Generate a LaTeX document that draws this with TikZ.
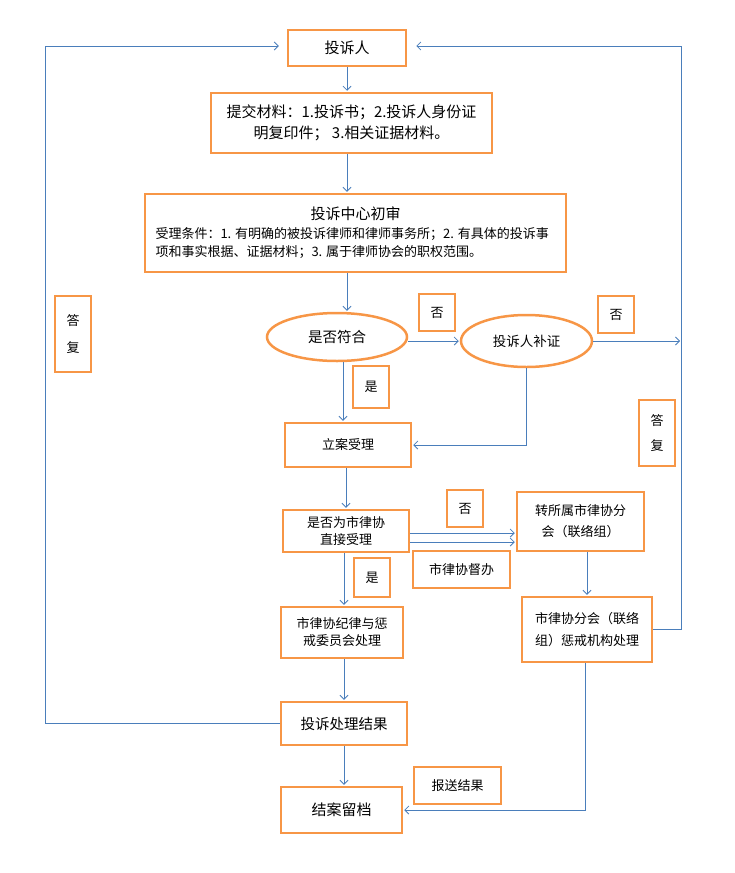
\documentclass[tikz,border=0pt]{standalone}
\usepackage{fontspec}
\setmainfont{Noto Sans CJK SC}
\usepackage{tikz}
\usetikzlibrary{arrows,arrows.meta,shapes.geometric}
\definecolor{boxorange}{HTML}{F79646}
\definecolor{lineblue}{HTML}{4A7EBB}
\tikzstyle{box}=[rectangle, draw=boxorange, line width=2.5pt, align=center, inner sep=0pt, font=\fontsize{13}{17}\selectfont]
\tikzstyle{oval}=[ellipse, draw=boxorange, line width=2.5pt, inner sep=0pt, font=\fontsize{13.5}{17}\selectfont]
\tikzstyle{tag}=[box, minimum width=36pt, font=\fontsize{13}{26}\selectfont]
\tikzstyle{line}=[draw=lineblue, line width=0.8pt]
\tikzstyle{arrow}=[line, ->, shorten >=1pt]

\begin{document}
\begin{tikzpicture}[x=1pt, y=-1pt, >={Straight Barb[length=4pt,width=8pt]}]

\useasboundingbox (0,0) rectangle (734,873);

\node (complainant) [box, minimum width=118pt, minimum height=36pt, font=\fontsize{15}{20}\selectfont] at (347,48) {投诉人};
\node (material) [box, minimum width=281pt, minimum height=60pt, font=\fontsize{15}{21}\selectfont] at (351.5,123) {提交材料：1.投诉书；2.投诉人身份证\\明复印件； 3.相关证据材料。};
\node (review) [box, minimum width=421pt, minimum height=78pt, align=left, font=\fontsize{13}{18.5}\selectfont] at (355.5,233)
	{\makebox[400pt]{\fontsize{15}{20}\selectfont 投诉中心初审}\\受理条件：1. 有明确的被投诉律师和律师事务所；2. 有具体的投诉事\\项和事实根据、证据材料；3. 属于律师协会的职权范围。};

\node (match) [oval, minimum width=140pt, minimum height=48pt, font=\fontsize{14.5}{17}\selectfont] at (337,337) {是否符合};
\node (supplement) [oval, minimum width=131pt, minimum height=52pt] at (526.5,341) {投诉人补证};
\node (no1) [tag, minimum height=37pt] at (437,312.5) {否};
\node (no2) [tag, minimum height=37pt] at (616,314.5) {否};
\node (yes1) [tag, minimum height=42pt] at (371,387) {是};
\node (filing) [box, minimum width=126pt, minimum height=44pt] at (348,445) {立案受理};

\node (replyL) [tag, minimum height=76pt, font=\fontsize{13}{27}\selectfont] at (73,334) {答\\复};
\node (replyR) [tag, minimum height=66pt, font=\fontsize{13}{25}\selectfont] at (657,433) {答\\复};

\node (direct) [box, minimum width=126pt, minimum height=42pt] at (346,531) {是否为市律协\\直接受理};
\node (no3) [tag, minimum height=37pt] at (465,508.5) {否};
\node (transfer) [box, minimum width=127pt, minimum height=59pt, font=\fontsize{13}{21}\selectfont] at (580.5,521.5) {转所属市律协分\\会（联络组）};
\node (supervise) [box, minimum width=97pt, minimum height=37pt] at (461.5,569.5) {市律协督办};
\node (yes2) [tag, minimum height=39pt] at (372,577.5) {是};
\node (discipline) [box, minimum width=122pt, minimum height=51pt] at (342,632.5) {市律协纪律与惩\\戒委员会处理};
\node (branch) [box, minimum width=130pt, minimum height=65pt, font=\fontsize{13}{22}\selectfont] at (587,629.5) {市律协分会（联络\\组）惩戒机构处理};

\node (result) [box, minimum width=126pt, minimum height=43pt, font=\fontsize{14.5}{17}\selectfont] at (344,723.5) {投诉处理结果};
\node (report) [box, minimum width=87pt, minimum height=37pt] at (457.5,785.5) {报送结果};
\node (archive) [box, minimum width=121pt, minimum height=46pt, font=\fontsize{15}{17}\selectfont] at (341.5,810) {结案留档};

\coordinate (ltop) at (45,46);
\coordinate (rtop) at (681,46);

\draw [arrow] (complainant.south -| complainant) -- (material.north -| complainant);
\draw [arrow] (material.south -| complainant) -- (review.north -| complainant);
\draw [arrow] (review.south -| complainant) -- (match.north -| complainant);
\draw [arrow] ([yshift=-4pt]match.east) -- ([yshift=-4pt]match.east -| supplement.west);
\draw [arrow] ([xshift=6pt]match.south) -- ([xshift=6pt]match.south |- filing.north);
\draw [arrow] (supplement.south) -- (supplement.south |- filing.east) -- (filing.east);
\draw [arrow] (supplement.east) -- (supplement.east -| rtop);
\draw [arrow] (filing.south -| direct) -- (direct.north);
\draw [arrow] ([yshift=-2pt]direct.east) -- ([yshift=-2pt]direct.east -| transfer.west);
\draw [arrow] ([yshift=-11pt]direct.east) -- ([yshift=-11pt]direct.east -| transfer.west);
\draw [arrow] (direct.south -| result) -- (discipline.north -| result);
\draw [arrow] (transfer.south -| branch) -- (branch.north);
\draw [arrow] (discipline.south -| result) -- (result.north);
\draw [arrow] (result.south) -- (archive.north -| result);
\draw [arrow] ([xshift=-2pt]branch.south) -- ([xshift=-2pt]branch.south |- archive.east) -- (archive.east);
\draw [arrow, shorten >=8pt] (result.west) -- (result.west -| ltop) -- (ltop) -- (ltop -| complainant.west);
\draw [arrow, shorten >=9pt] (branch.east) -- (branch.east -| rtop) -- (rtop) -- (rtop -| complainant.east);

\end{tikzpicture}
\end{document}
